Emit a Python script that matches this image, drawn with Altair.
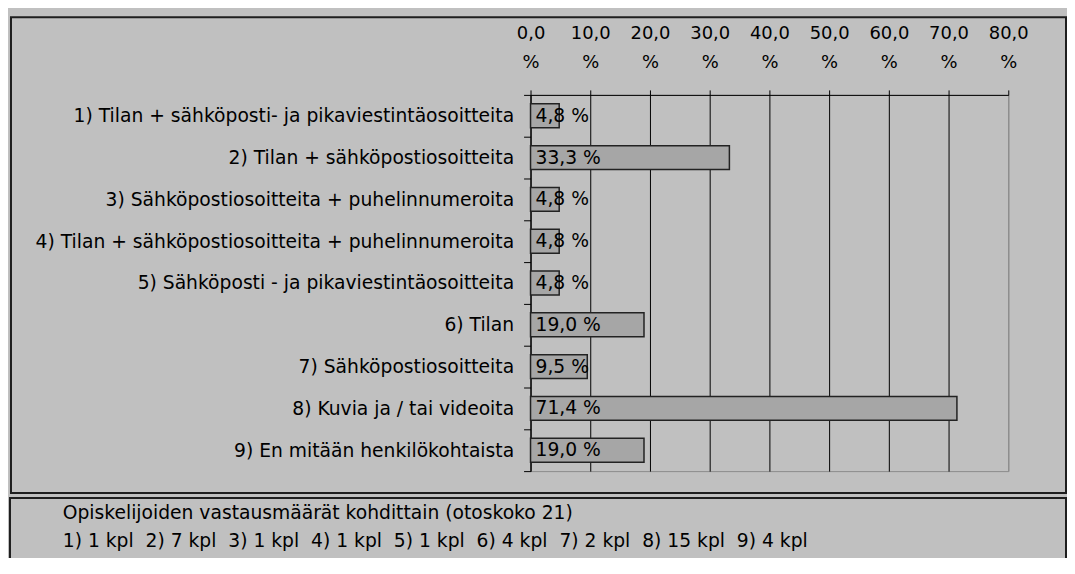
import altair as alt
import pandas as pd

categories = [
    "1) Tilan + sähköposti- ja pikaviestintäosoitteita",
    "2) Tilan + sähköpostiosoitteita",
    "3) Sähköpostiosoitteita + puhelinnumeroita",
    "4) Tilan + sähköpostiosoitteita + puhelinnumeroita",
    "5) Sähköposti - ja pikaviestintäosoitteita",
    "6) Tilan",
    "7) Sähköpostiosoitteita",
    "8) Kuvia ja / tai videoita",
    "9) En mitään henkilökohtaista",
]
percents = [4.8, 33.3, 4.8, 4.8, 4.8, 19.0, 9.5, 71.4, 19.0]
counts = [1, 7, 1, 1, 1, 4, 2, 15, 4]
x_ticks = [0, 10, 20, 30, 40, 50, 60, 70, 80]
note_title = "Opiskelijoiden vastausmäärät kohdittain (otoskoko 21)"

FONT = "DejaVu Sans"
FS = 18.8
BG = "#c0c0c0"

labels = [f"{v:.1f}".replace(".", ",") + " %" for v in percents]
df = pd.DataFrame({"cat": categories, "pct": percents, "label": labels})

note_line = "\u00a0 ".join(f"{i + 1}) {c} kpl" for i, c in enumerate(counts))
notes1 = pd.DataFrame({"txt": [note_title]})
notes2 = pd.DataFrame({"txt": [note_line]})

y_enc = alt.Y(
    "cat:N",
    sort=categories,
    title=None,
    scale=alt.Scale(paddingInner=0, paddingOuter=0),
    axis=alt.Axis(
        labelFont=FONT,
        labelFontSize=FS,
        labelColor="black",
        labelPadding=10,
        labelLimit=0,
        ticks=True,
        tickBand="extent",
        tickSize=7,
        tickColor="black",
        domainColor="black",
        grid=False,
    ),
)

x_enc = alt.X(
    "pct:Q",
    title=None,
    scale=alt.Scale(domain=[0, 80], nice=False, zero=True),
    axis=alt.Axis(
        orient="top",
        values=x_ticks,
        labelExpr="[replace(format(datum.value, '.1f'), '.', ','), '%']",
        labelFont=FONT,
        labelFontSize=18,
        labelColor="black",
        labelLineHeight=29,
        labelBaseline="bottom",
        labelPadding=48,
        labelAlign="center",
        labelFlush=False,
        labelOverlap=False,
        tickSize=5,
        tickColor="black",
        domainColor="black",
        grid=True,
        gridColor={"condition": {"test": "datum.value >= 80", "value": "#8a8a8a"}, "value": "black"},
        gridWidth=1,
    ),
)

base = alt.Chart(df)

bars = base.mark_bar(size=24, fill="#a6a6a6", stroke="#222222", strokeWidth=1.5).encode(
    x=x_enc, y=y_enc
)

texts = base.mark_text(
    align="left", baseline="middle", dx=5, font=FONT, fontSize=FS, color="black"
).encode(x=alt.datum(0), y=alt.Y("cat:N", sort=categories), text="label:N")

one = pd.DataFrame({"k": [0]})

outer_panel = alt.Chart(one).mark_rect(
    filled=False, stroke="#1e1e1e", strokeWidth=2
).encode(
    x=alt.value(-522), x2=alt.value(538), y=alt.value(-78), y2=alt.value(400)
)

bottom_panel = alt.Chart(one).mark_rect(
    filled=False, stroke="#1e1e1e", strokeWidth=2
).encode(
    x=alt.value(-523), x2=alt.value(538), y=alt.value(405), y2=alt.value(520)
)

note_text1 = alt.Chart(notes1).mark_text(
    align="left", baseline="middle", font=FONT, fontSize=FS, color="black"
).encode(x=alt.value(-470), y=alt.value(420), text="txt:N")

note_text2 = alt.Chart(notes2).mark_text(
    align="left", baseline="middle", font=FONT, fontSize=FS, color="black"
).encode(x=alt.value(-470), y=alt.value(448), text="txt:N")

chart = (
    alt.layer(outer_panel, bottom_panel, bars, texts, note_text1, note_text2)
    .properties(
        width=480,
        height=378,
        autosize=alt.AutoSizeParams(type="none"),
        padding={"left": 525, "top": 86, "right": 59, "bottom": 86},
        background=BG,
    )
    .configure_view(stroke="#8a8a8a", strokeWidth=1)
)

chart.save("out.html", embed_options={"renderer": "svg", "actions": False})
